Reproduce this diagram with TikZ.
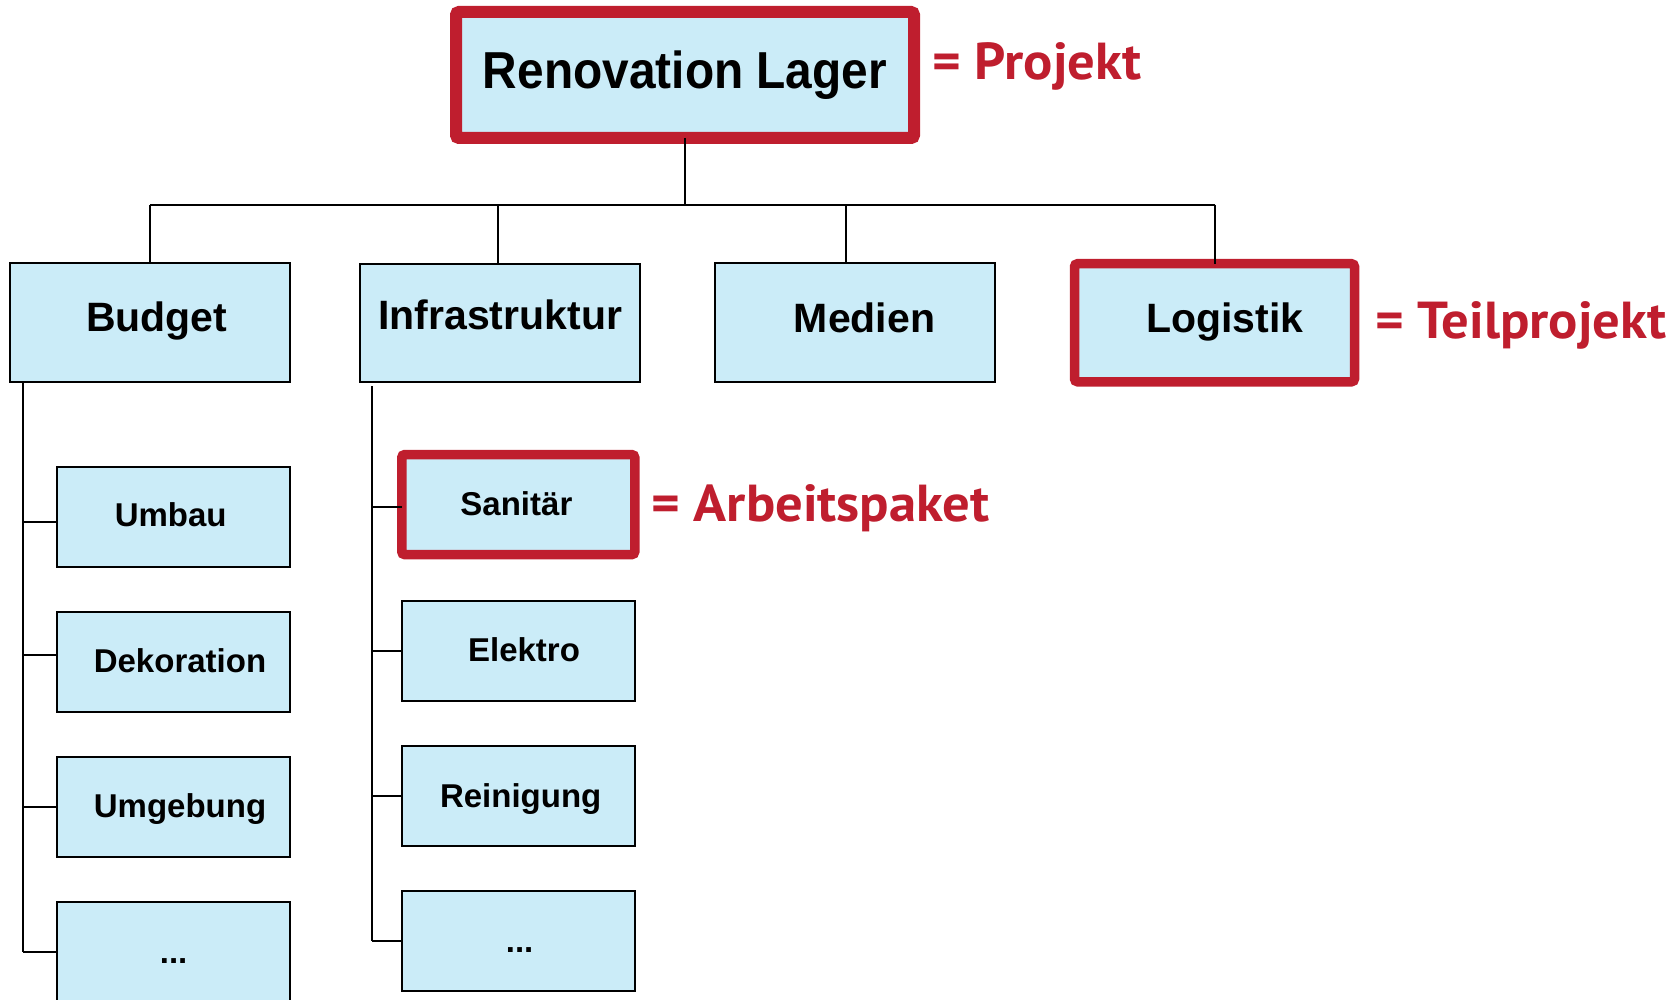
\documentclass[tikz,border=0pt]{standalone}
\usepackage{fontspec}
\setmainfont{Liberation Sans}
\newfontfamily\rootfont[FakeStretch=0.92]{Liberation Sans}
\newfontfamily\notefont[FakeStretch=1.05]{PT Sans}
\usetikzlibrary{calc}
\definecolor{wbsfill}{HTML}{CBECF8}
\definecolor{wbsred}{HTML}{BF1E2E}

\begin{document}
\begin{tikzpicture}[x=0.5pt,y=-0.5pt,
  box/.style={draw=black, line width=1pt, fill=wbsfill, inner sep=0pt, outer sep=0pt},
  rootbox/.style={box, draw=wbsred, line width=6pt, rounded corners=1.5pt,
    minimum width=229pt, minimum height=63pt},
  lvtwo/.style={box, minimum width=140pt, minimum height=59pt},
  lvtwored/.style={lvtwo, draw=wbsred, line width=4.75pt, rounded corners=1.5pt},
  lvthree/.style={box, minimum width=116.5pt, minimum height=50pt},
  lvthreered/.style={lvthree, draw=wbsred, line width=4.75pt, rounded corners=1.5pt},
  roottext/.style={anchor=base, inner sep=0pt, font=\rootfont\bfseries\fontsize{26}{30}\selectfont},
  twotext/.style={anchor=base, inner sep=0pt, font=\bfseries\fontsize{20.5}{24}\selectfont},
  threetext/.style={anchor=base, inner sep=0pt, font=\bfseries\fontsize{16.5}{20}\selectfont},
  note/.style={anchor=base west, inner sep=0pt, text=wbsred, font=\notefont\bfseries\fontsize{26}{30}\selectfont},
  conn/.style={draw=black, line width=1pt}
]
\useasboundingbox (0,0) rectangle (1680,1000);

% ---- project ----
\node[rootbox] (root) at (685,75) {};
\node[roottext] (root-t) at (685,88.3) {Renovation Lager};
\node[note] (projekt) at (932,80) {= Projekt};

% ---- sub-projects ----
\node[lvtwo] (budget) at (150,322.5) {};
\node[lvtwo] (infra) at (500.25,323.25) {};
\node[lvtwo] (medien) at (855.25,322.5) {};
\node[lvtwored] (logistik) at (1214.5,322.75) {};
\node[twotext] (budget-t) at (156.7,331.7) {Budget};
\node[twotext] (infra-t) at (500.2,329) {Infrastruktur};
\node[twotext] (medien-t) at (864.6,332) {Medien};
\node[twotext] (logistik-t) at (1224.6,332.7) {Logistik};
\node[note] (teilprojekt) at (1374.6,338.3) {= Teilprojekt};

% ---- work packages under Budget ----
\node[lvthree] (umbau) at (173.35,516.7) {};
\node[lvthree] (deko) at (173.35,661.9) {};
\node[lvthree] (umgebung) at (173.35,807.1) {};
\node[lvthree] (bmore) at (173.35,952.3) {};
\node[threetext] (umbau-t) at (170.7,526.7) {Umbau};
\node[threetext] (deko-t) at (180,672.3) {Dekoration};
\node[threetext] (umgebung-t) at (180,817.3) {Umgebung};
\node[threetext] (bmore-t) at (173.6,963) {...};

% ---- work packages under Infrastruktur ----
\node[lvthreered] (sanitaer) at (518.25,504.6) {};
\node[lvthree] (elektro) at (518.55,650.7) {};
\node[lvthree] (reinigung) at (518.55,796) {};
\node[lvthree] (imore) at (518.55,941.3) {};
\node[threetext] (sanitaer-t) at (516.4,515.7) {Sanitär};
\node[threetext] (elektro-t) at (524,661) {Elektro};
\node[threetext] (reinigung-t) at (520.7,807.7) {Reinigung};
\node[threetext] (imore-t) at (519.6,952) {...};
\node[note] (arbeitspaket) at (651,521) {= Arbeitspaket};

% ---- tree connectors, top level ----
\coordinate (busL) at (150,204.6);
\coordinate (busR) at (1215,204.6);
\coordinate (infra-top) at (498,204.6);
\coordinate (medien-top) at (846.4,204.6);
\draw[conn] (busL) -- (busR);
\draw[conn] (root.south) -- (root.south |- busL);
\draw[conn] (busL) -- (budget.north);
\draw[conn] (infra-top) -- (infra-top |- infra.north);
\draw[conn] (medien-top) -- (medien-top |- medien.north);
\draw[conn] (busR) -- (busR |- logistik.north);

% ---- Budget spine ----
\coordinate (bspine) at ($(budget.south west)+(13.2,0)$);
\coordinate (umbau-in) at ($(umbau.west)+(0,5.6)$);
\coordinate (deko-in) at ($(deko.west)+(0,-6.5)$);
\draw[conn] (bspine) -- (bspine |- bmore.west);
\draw[conn] (bspine |- umbau-in) -- (umbau-in);
\draw[conn] (bspine |- deko-in) -- (deko-in);
\draw[conn] (bspine |- umgebung.west) -- (umgebung.west);
\draw[conn] (bspine |- bmore.west) -- (bmore.west);

% ---- Infrastruktur spine ----
\coordinate (ispine) at ($(infra.south west)+(11.8,4)$);
\coordinate (sanitaer-in) at ($(sanitaer.west)+(0,2.4)$);
\draw[conn] (ispine) -- (ispine |- imore.west);
\draw[conn] (ispine |- sanitaer-in) -- (sanitaer-in);
\draw[conn] (ispine |- elektro.west) -- (elektro.west);
\draw[conn] (ispine |- reinigung.west) -- (reinigung.west);
\draw[conn] (ispine |- imore.west) -- (imore.west);
\end{tikzpicture}
\end{document}
